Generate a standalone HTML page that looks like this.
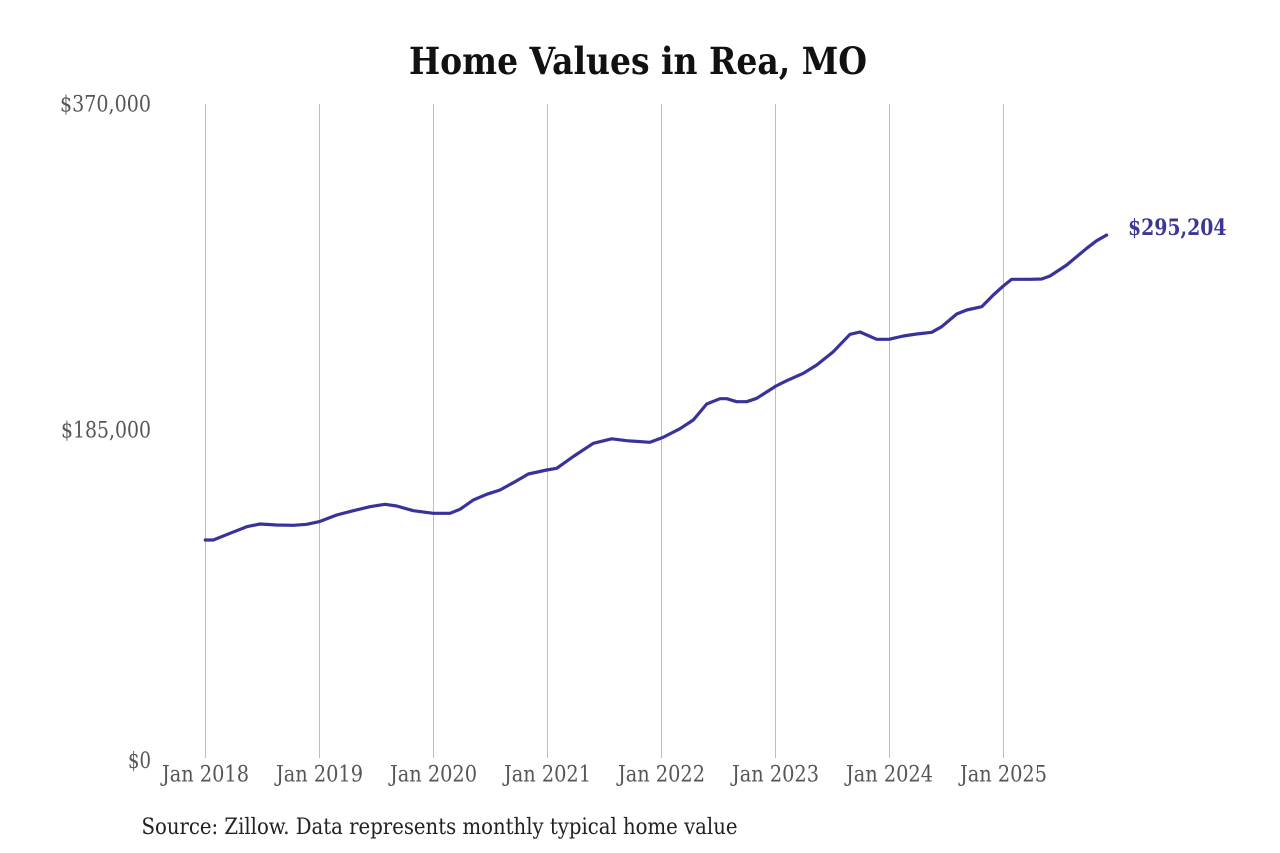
<!DOCTYPE html>
<html>
<head>
<meta charset="utf-8">
<style>
  html, body { margin: 0; padding: 0; background: #ffffff; }
  svg { display: block; }
  text { font-family: "DejaVu Serif", "Liberation Serif", serif; }
</style>
</head>
<body>
<svg width="1280" height="853" viewBox="0 0 1280 853" xmlns="http://www.w3.org/2000/svg">
  <rect width="1280" height="853" fill="#ffffff"/>

  <!-- Title -->
  <text x="409" y="74" font-size="37" font-weight="bold" fill="#111111" textLength="458" lengthAdjust="spacingAndGlyphs">Home Values in Rea, MO</text>

  <!-- Vertical gridlines -->
  <g stroke="#bdbdbd" stroke-width="1">
    <line x1="205.5" y1="104" x2="205.5" y2="758"/>
    <line x1="319.5" y1="104" x2="319.5" y2="758"/>
    <line x1="433.5" y1="104" x2="433.5" y2="758"/>
    <line x1="547.5" y1="104" x2="547.5" y2="758"/>
    <line x1="661.5" y1="104" x2="661.5" y2="758"/>
    <line x1="775.5" y1="104" x2="775.5" y2="758"/>
    <line x1="889.5" y1="104" x2="889.5" y2="758"/>
    <line x1="1003.5" y1="104" x2="1003.5" y2="758"/>
  </g>

  <!-- Y axis labels -->
  <g font-size="22" fill="#555555" text-anchor="end">
    <text x="151" y="111.5" textLength="91" lengthAdjust="spacingAndGlyphs">$370,000</text>
    <text x="151" y="437.5" textLength="90" lengthAdjust="spacingAndGlyphs">$185,000</text>
    <text x="151" y="768" textLength="23" lengthAdjust="spacingAndGlyphs">$0</text>
  </g>

  <!-- X axis labels -->
  <g font-size="22" fill="#555555" text-anchor="middle">
    <text x="205.5" y="781.5" textLength="87" lengthAdjust="spacingAndGlyphs">Jan 2018</text>
    <text x="319.5" y="781.5" textLength="87" lengthAdjust="spacingAndGlyphs">Jan 2019</text>
    <text x="433.5" y="781.5" textLength="87" lengthAdjust="spacingAndGlyphs">Jan 2020</text>
    <text x="547.5" y="781.5" textLength="87" lengthAdjust="spacingAndGlyphs">Jan 2021</text>
    <text x="661.5" y="781.5" textLength="87" lengthAdjust="spacingAndGlyphs">Jan 2022</text>
    <text x="775.5" y="781.5" textLength="87" lengthAdjust="spacingAndGlyphs">Jan 2023</text>
    <text x="889.5" y="781.5" textLength="87" lengthAdjust="spacingAndGlyphs">Jan 2024</text>
    <text x="1003.5" y="781.5" textLength="87" lengthAdjust="spacingAndGlyphs">Jan 2025</text>
  </g>

  <!-- Data line -->
  <polyline fill="none" stroke="#38339a" stroke-width="3.2" stroke-linejoin="round" stroke-linecap="round"
    points="205.3,540 213.3,540 230,533.3 246.7,526.7 260,524 276.7,525 293.3,525.3 306.7,524.3 319,521.7 336.7,515 353.3,510.7 370,506.7 385,504.3 396.7,506 413.3,510.7 433.3,513.3 450,513.3 460,509.3 473.3,500 486.7,494.3 500,490 513.3,482.7 528.3,474 546.7,470 556.7,468.3 573.3,456.5 593.3,443.3 611.7,438.8 626.7,440.7 650,442.3 662.8,437.5 680,428.7 693.3,420 706.7,404 720,398.7 726.7,398.7 736.7,401.7 746.7,401.7 756.7,398.3 776,386 786.7,380.7 803.3,373.3 816.7,365 833.3,351.7 850,334.3 860,332 876.7,339.3 889,339.3 903.3,336 916.7,334 931.7,332.3 941.7,326.7 956.7,314 966.7,310 981.7,306.7 993.3,295 1003.3,286 1011.7,279.3 1030,279.3 1041.7,279 1050,276 1066.7,265 1086.7,248.3 1096.7,240.7 1106.7,235"/>

  <!-- End value label -->
  <text x="1128" y="235" font-size="22" font-weight="bold" fill="#3b3795" textLength="98.5" lengthAdjust="spacingAndGlyphs">$295,204</text>

  <!-- Source -->
  <text x="141.5" y="834" font-size="22" fill="#222222" textLength="596" lengthAdjust="spacingAndGlyphs">Source: Zillow. Data represents monthly typical home value</text>
</svg>
</body>
</html>
